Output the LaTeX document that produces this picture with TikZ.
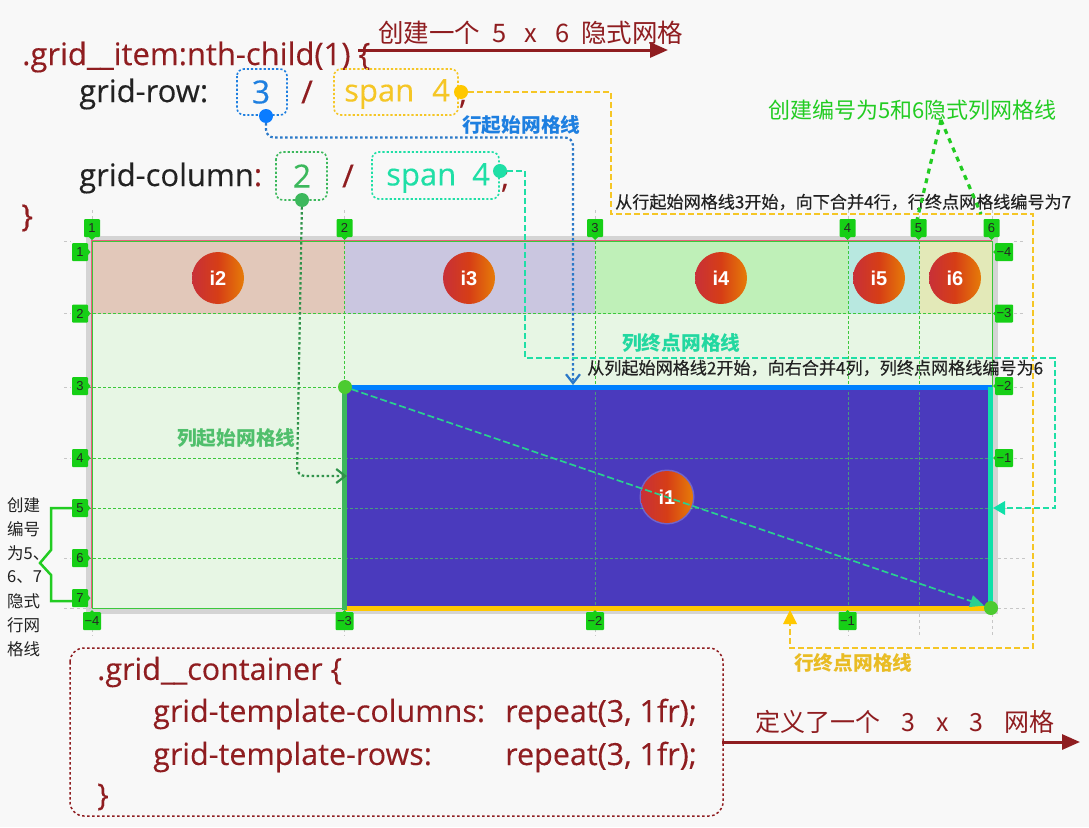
\documentclass[tikz,border=0pt]{standalone}
\usepackage{fontspec}
\usetikzlibrary{arrows.meta}
\setmainfont{Liberation Sans}
\newfontfamily\codef[FakeBold=0.25]{Open Sans}
\newfontfamily\cjk{Noto Sans CJK SC}
\newfontfamily\cjkm[FakeBold=0.35]{Noto Sans CJK SC}
\definecolor{bgc}{HTML}{F8F8F8}
\definecolor{dred}{HTML}{8F1D20}
\definecolor{cblue}{HTML}{1E7FE0}
\definecolor{pblue}{HTML}{2A78C8}
\definecolor{cyel}{HTML}{F5C626}
\definecolor{cteal}{HTML}{1FDFA6}
\definecolor{lteal}{HTML}{22D8A0}
\definecolor{cgreen}{HTML}{3CB85C}
\definecolor{bgreen}{HTML}{22CC22}
\definecolor{tagg}{HTML}{16CF16}
\definecolor{glin}{HTML}{3CC83C}
\definecolor{glind}{HTML}{4A9A7C}
\definecolor{dark}{HTML}{222222}
\definecolor{cellbg}{HTML}{E7F6E4}
\definecolor{celltwo}{HTML}{E2C8BA}
\definecolor{cellthree}{HTML}{CAC6E0}
\definecolor{cellfour}{HTML}{BFF0B8}
\definecolor{cellfive}{HTML}{B8E8E0}
\definecolor{cellsix}{HTML}{E3E9B8}
\definecolor{mainc}{HTML}{4A3ABD}
\definecolor{topb}{HTML}{0080FF}
\definecolor{boty}{HTML}{FFC800}
\definecolor{rigt}{HTML}{10E0A8}
\definecolor{balla}{HTML}{C83038}
\definecolor{ballb}{HTML}{D63E16}
\definecolor{ballc}{HTML}{E67C08}
\definecolor{pinkb}{HTML}{E8607A}
\definecolor{dotg}{HTML}{4CCB30}
\definecolor{diag}{HTML}{2AD090}
\definecolor{dotb}{HTML}{0A7CFF}
\definecolor{doty}{HTML}{FFC800}
\tikzset{
  x=1pt,y=-1pt,
  txt/.style={inner sep=0pt,anchor=west,font=\codef\fontsize{#1}{#1}\selectfont},
  cn/.style={inner sep=0pt,anchor=west,font=\cjk\fontsize{#1}{#1}\selectfont},
  cnm/.style={inner sep=0pt,anchor=west,font=\cjkm\fontsize{#1}{#1}\selectfont},
  cnb/.style={inner sep=0pt,anchor=west,font=\cjk\bfseries\fontsize{#1}{#1}\selectfont},
  dotn/.style={circle,inner sep=0pt,minimum size=14pt,fill=#1},
  tag/.style={fill=tagg,inner sep=0pt,minimum width=#1,minimum height=18pt,rounded corners=1pt,text=black!85,font=\fontsize{13}{13}\selectfont},
  tip/.style={fill=tagg},
  hint/.style={draw=black!22,dash pattern=on 3pt off 3pt,line width=.6pt},
  gline/.style={draw=glin,dash pattern=on 3pt off 2pt,line width=.6pt},
  glined/.style={draw=glind,dash pattern=on 3pt off 2pt,line width=.7pt},
  ball/.style={circle,minimum size=52pt,inner sep=0pt,text=white,font=\bfseries\fontsize{20}{20}\selectfont},
  codebox/.style={draw=#1,dash pattern=on 2.2pt off 2pt,line width=1.6pt,rounded corners=7pt},
  dotpath/.style={draw=#1,dash pattern=on 2.5pt off 2.5pt,line width=2.2pt,rounded corners=8pt},
  dashpath/.style={draw=#1,dash pattern=on 6pt off 3pt,line width=1.7pt},
}
\newcommand{\ballnode}[3]{%
  \shade[left color=balla,right color=ballc,middle color=ballb] (#2,#3) circle[radius=26];
  \node[ball] (#1) at (#2,#3) {#1};}
\begin{document}
\begin{tikzpicture}
\useasboundingbox (0,0) rectangle (1089,827);
\fill[bgc] (0,0) rectangle (1089,827);

% container
\fill[black!17] (86,236) rectangle (998,614);
\fill[pinkb] (91,240) rectangle (992,608);
\fill[cellbg] (93,242) rectangle (992,608);
\fill[celltwo] (93,242) rectangle (344.5,313.5);
\fill[cellthree] (344.5,242) rectangle (595,313.5);
\fill[cellfour] (595,242) rectangle (848,313.5);
\fill[cellfive] (848,242) rectangle (919.5,313.5);
\fill[cellsix] (919.5,242) rectangle (992,313.5);
\draw[glin,line width=.9pt] (92.5,241.5) rectangle (992,608);

% hints outside the container
\foreach \x in {92,344.5,595,848,919.5,992} \draw[hint] (\x,210) -- (\x,219);
\foreach \x in {92,344.5,595,848} \draw[hint] (\x,629) -- (\x,636);
\draw[hint] (919.5,614) -- (919.5,636);
\draw[hint] (992,614) -- (992,636);
\foreach \y in {241,313.5,387,458,508,558,608} \draw[hint] (64,\y) -- (71,\y);
\foreach \y in {241,313.5,387,458} \draw[hint] (1014,\y) -- (1026,\y);
\draw[hint] (998,508) -- (1026,508);
\draw[hint] (998,558) -- (1026,558);
\draw[hint] (998,608) -- (1026,608);
\draw[hint] (71,608) -- (92,608);

% main item
\fill[mainc] (344.5,387) rectangle (990,608);

% grid lines
\foreach \x in {344.5,595,848,919.5} {\draw[gline] (\x,241) -- (\x,387); \draw[glined] (\x,387) -- (\x,608);}
\foreach \y in {313.5,387} \draw[gline] (88,\y) -- (992,\y);
\foreach \y in {458,508,558} {\draw[gline] (88,\y) -- (344.5,\y); \draw[glined] (344.5,\y) -- (992,\y);}

% thick edges
\draw[topb,line width=5pt] (344.5,387.5) -- (992,387.5);
\draw[boty,line width=5pt] (344.5,608) -- (992,608);
\draw[cgreen,line width=5pt] (344.5,385) -- (344.5,610);
\draw[rigt,line width=5pt] (990.5,387) -- (990.5,610);

% balls
\ballnode{i2}{218}{278}
\ballnode{i3}{469}{278}
\ballnode{i4}{721}{278}
\ballnode{i5}{879}{278}
\ballnode{i6}{955}{278}
\fill[white,opacity=.22] (667,497) circle[radius=27.5];
\ballnode{i1}{667}{497}

% tags top
\foreach \n/\t/\x in {t1/1/92,t2/2/344.5,t3/3/595,t4/4/847.5,t5/5/918.5,t6/6/991.5} {
  \fill[tip] (\x-4,236) -- (\x+4,236) -- (\x,240) -- cycle;
  \node[tag=16pt] (\n) at (\x,228) {\t};
}
% tags left
\foreach \n/\t/\y in {l1/1/252,l2/2/313.5,l3/3/386,l4/4/458,l5/5/508,l6/6/558,l7/7/598} {
  \fill[tip] (88,\y-3) -- (88,\y+3) -- (90.5,\y) -- cycle;
  \node[tag=16pt] (\n) at (80,\y) {\t};
}
% tags right
\foreach \n/\t/\y in {r1/−4/252,r2/−3/313.5,r3/−2/386,r4/−1/458} {
  \fill[tip] (996,\y-3) -- (996,\y+3) -- (993,\y) -- cycle;
  \node[tag=18pt] (\n) at (1004,\y) {\t};
}
% tags bottom
\foreach \n/\t/\x in {b1/−4/92,b2/−3/344.5,b3/−2/595,b4/−1/847.5} {
  \fill[tip] (\x-3,613) -- (\x+3,613) -- (\x,610) -- cycle;
  \node[tag=18pt] (\n) at (\x,621) {\t};
}

% code top
\node[txt=31,text=dred] (head) at (22,57) {.grid\_\hspace{-1pt}\_item:nth-child(1) \{};
\node[txt=31,text=dark] (rowk) at (79,94) {grid-row:};
\draw[codebox=cblue] (237,69) rectangle (287,115);
\node[font=\codef\fontsize{32}{32}\selectfont,text=cblue,inner sep=0pt] (three) at (261,92) {3};
\node[font=\codef\fontsize{32}{32}\selectfont,text=dred,inner sep=0pt] (sl1) at (307,92) {/};
\draw[codebox=cyel] (334,69) rectangle (458,115);
\node[txt=31,text=cyel] (sp1) at (344,94) {span\hspace{18pt}4};
\node[txt=31,text=dred] (sc1) at (459,97) {;};
\node[txt=31,text=dark] (colk) at (79,178) {grid-column\textcolor{dred}{:}};
\draw[codebox=cgreen] (276,152) rectangle (327,200);
\node[font=\codef\fontsize{32}{32}\selectfont,text=cgreen,inner sep=0pt] (two) at (302,176) {2};
\node[font=\codef\fontsize{32}{32}\selectfont,text=dred,inner sep=0pt] (sl2) at (348,176) {/};
\draw[codebox=cteal] (372,152) rectangle (499,199);
\node[txt=31,text=cteal] (sp2) at (386,178) {span\hspace{16pt}4};
\node[txt=31,text=dred] (sc2) at (501,181) {;};
\node[txt=31,text=dred] (close) at (21,218) {\}};

% top arrow
\coordinate (a1s) at (358,50);
\coordinate (a1e) at (668,50);
\draw[dred,line width=3pt,-{Triangle[length=18pt,width=15pt]}] (a1s) -- (a1e);
\node[cn=25.5,text=dred] (a1t) at (378,33) {创建一个\hspace{12pt}5\hspace{18pt}x\hspace{18pt}6\hspace{12pt}隐式网格};

% labels
\node[cnb=19.7,text=cblue] (lb1) at (462,125) {行起始网格线};
\node[cnb=19.7,text=lteal] (lb2) at (622,343) {列终点网格线};
\node[cnb=19.7,text=cgreen!90!white] (lb3) at (177,438) {列起始网格线};
\node[cnb=19.7,text=cyel!95!black] (lb4) at (794,663) {行终点网格线};
\node[cn=22,text=bgreen] (lb5) at (768,110) {创建编号为5和6隐式列网格线};
\node[cnm=17.1,text=dark] (lb6) at (615,202) {从行起始网格线3开始，向下合并4行，行终点网格线编号为7};
\node[cnm=17.1,text=dark] (lb7) at (587,368) {从列起始网格线2开始，向右合并4列，列终点网格线编号为6};

% left note
\foreach \t/\y in {创建/505,编号/529,为5、/553,6、7/577,隐式/601,行网/625,格线/649}
  \node[cn=16.5,text=dark] at (7,\y) {\t};
\coordinate (brA) at (72,508);
\coordinate (brB) at (72,601);
\draw[bgreen,line width=2.5pt] (brA) -- (51,508) -- (51,550) -- (40,563) -- (51,575) -- (51,601) -- (brB);

% connectors
\node[dotn=dotb] (dblue) at (266,116) {};
\node[dotn=doty] (dyel) at (461,92) {};
\node[dotn=cteal] (dteal) at (500,171) {};
\node[dotn=cgreen] (dgreen) at (302,200) {};
\node[dotn=dotg] (dstart) at (345,387) {};
\node[dotn=dotg] (dend) at (991,608) {};

\coordinate (blueend) at (573,385);
\coordinate (yelend) at (790,610);
\coordinate (tealend) at (993,508);
\coordinate (greenend) at (347,476);
\draw[dotpath=pblue,-{Straight Barb[length=9pt,width=14pt]}] (dblue) -- (266,137.5) -- (573,137.5) -- (blueend);
\draw[dashpath=cyel,rounded corners=0pt] (dyel) -- (611,92) -- (611,214) -- (1033,214) -- (1033,648) -- (790,648) -- (790,622);
\fill[boty] (yelend) -- (797,624) -- (783,624) -- cycle;
\draw[dashpath=cteal] (dteal) -- (525,171) -- (525,358) -- (1055,358) -- (1055,508) -- (1003,508);
\fill[rigt] (tealend) -- (1005,501) -- (1005,515) -- cycle;
\draw[dotpath=cgreen!80!black,-{Straight Barb[length=9pt,width=14pt]}] (dgreen) -- (297,476) -- (greenend);
\draw[diag,line width=1.7pt,dash pattern=on 7pt off 3pt,-{Triangle[length=14pt,width=12pt]}] (dstart) -- (dend);

% implicit column lines note
\coordinate (apex) at (941,120);
\coordinate (five) at (917,220);
\coordinate (six) at (981,214);
\draw[bgreen,line width=3.2pt,dash pattern=on 5pt off 5pt] (apex) -- (five);
\draw[bgreen,line width=3.2pt,dash pattern=on 5pt off 5pt] (apex) -- (six);

% lower box
\draw[draw=dred,line width=1.5pt,dash pattern=on 2.5pt off 2.5pt,rounded corners=14pt] (70,648) rectangle (723,816);
\node[txt=30.5,text=dred] (c1) at (97,672) {.grid\_\hspace{-1pt}\_container \{};
\node[txt=30.5,text=dred] (c2) at (153,714) {grid-template-columns:};
\node[txt=30.5,text=dred] (c2b) at (505,714) {repeat(3, 1fr);};
\node[txt=30.5,text=dred] (c3) at (153,757) {grid-template-rows:};
\node[txt=30.5,text=dred] (c4) at (505,757) {repeat(3, 1fr);};
\node[txt=30.5,text=dred] (c5) at (97,797) {\}};
\coordinate (a2s) at (722,742);
\coordinate (a2e) at (1080,742);
\draw[dred,line width=3pt,-{Triangle[length=18pt,width=15pt]}] (a2s) -- (a2e);
\node[cn=25,text=dred] (a2t) at (755,722) {定义了一个\hspace{21pt}3\hspace{21pt}x\hspace{21pt}3\hspace{21pt}网格};
\end{tikzpicture}
\end{document}
